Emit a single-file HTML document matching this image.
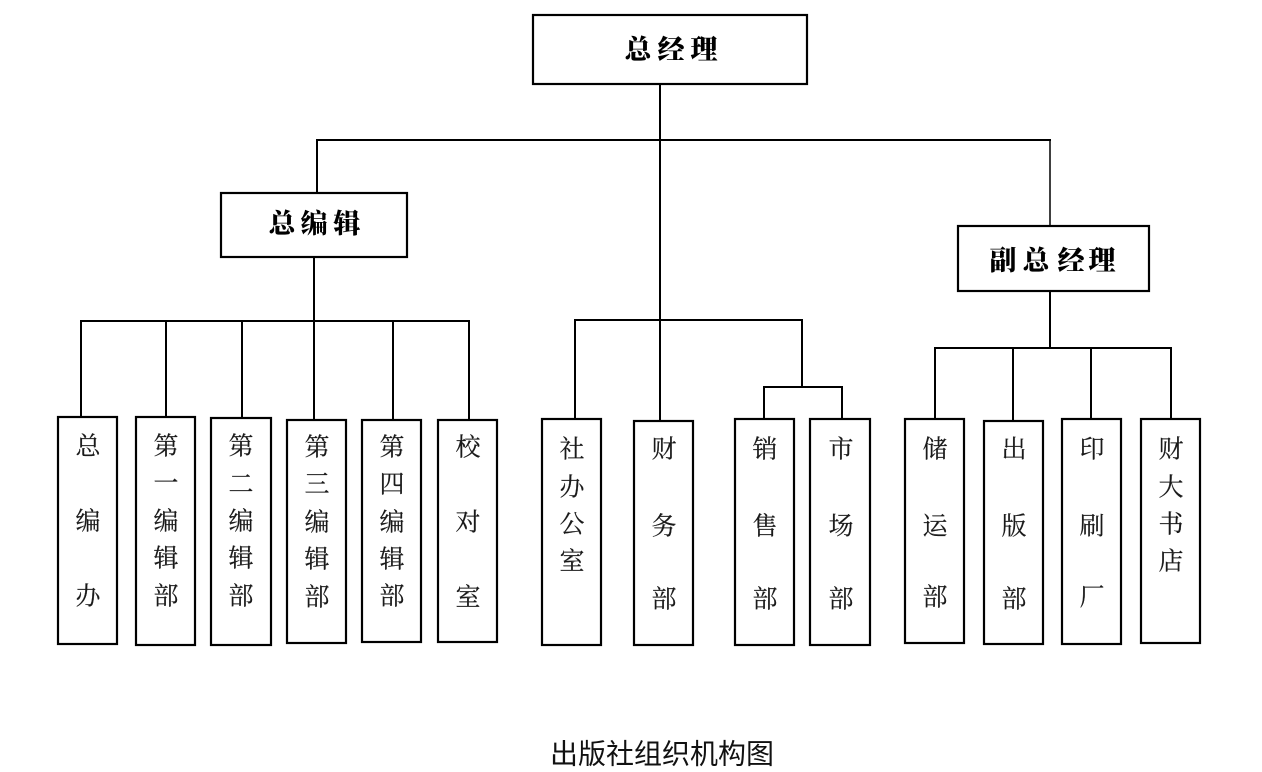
<!DOCTYPE html>
<html>
<head>
<meta charset="utf-8">
<style>
  html, body { margin: 0; padding: 0; background: #fff; }
  body { width: 1262px; height: 772px; overflow: hidden; }
  svg { display: block; }
  .t { font-family: "Liberation Serif", "Noto Serif CJK SC", serif; font-size: 25px; fill: #1a1a1a; stroke: #1a1a1a; stroke-width: 0.2; }
  .h { font-family: "Liberation Serif", "Noto Serif CJK SC", serif; font-size: 27px; font-weight: 900; fill: #000; }
  .cap { font-family: "Liberation Sans", "Noto Sans CJK SC", sans-serif; font-size: 28px; fill: #111; }
</style>
</head>
<body>
<svg width="1262" height="772" viewBox="0 0 1262 772" xmlns="http://www.w3.org/2000/svg">
  <g stroke="#000" stroke-width="2" fill="none">
    <line x1="660" y1="84" x2="660" y2="421"/>
    <line x1="316" y1="140" x2="1051" y2="140"/>
    <line x1="317" y1="140" x2="317" y2="193"/>
    <line x1="1050" y1="140" x2="1050" y2="226" stroke-width="1.5"/>

    <line x1="314" y1="257" x2="314" y2="420"/>
    <line x1="80" y1="321" x2="470" y2="321"/>
    <line x1="81" y1="321" x2="81" y2="417"/>
    <line x1="166" y1="321" x2="166" y2="417"/>
    <line x1="242" y1="321" x2="242" y2="418"/>
    <line x1="393" y1="321" x2="393" y2="420"/>
    <line x1="469" y1="321" x2="469" y2="420"/>

    <line x1="574" y1="320" x2="803" y2="320"/>
    <line x1="575" y1="320" x2="575" y2="419"/>
    <line x1="802" y1="320" x2="802" y2="387"/>
    <line x1="763" y1="387" x2="843" y2="387"/>
    <line x1="764" y1="387" x2="764" y2="419"/>
    <line x1="842" y1="387" x2="842" y2="419"/>

    <line x1="1050" y1="291" x2="1050" y2="348"/>
    <line x1="934" y1="348" x2="1172" y2="348"/>
    <line x1="935" y1="348" x2="935" y2="419"/>
    <line x1="1013" y1="348" x2="1013" y2="421"/>
    <line x1="1091" y1="348" x2="1091" y2="419"/>
    <line x1="1171" y1="348" x2="1171" y2="419"/>
  </g>

  <g stroke="#000" stroke-width="2.2" fill="#fff">
    <rect x="533" y="15" width="274" height="69"/>
    <rect x="221" y="193" width="186" height="64"/>
    <rect x="958" y="226" width="191" height="65"/>

    <rect x="58" y="417" width="59" height="227"/>
    <rect x="136" y="417" width="59" height="228"/>
    <rect x="211" y="418" width="60" height="227"/>
    <rect x="287" y="420" width="59" height="223"/>
    <rect x="362" y="420" width="59" height="222"/>
    <rect x="438" y="420" width="59" height="222"/>

    <rect x="542" y="419" width="59" height="226"/>
    <rect x="634" y="421" width="59" height="224"/>
    <rect x="735" y="419" width="59" height="226"/>
    <rect x="810" y="419" width="60" height="226"/>

    <rect x="905" y="419" width="59" height="224"/>
    <rect x="984" y="421" width="59" height="223"/>
    <rect x="1062" y="419" width="59" height="225"/>
    <rect x="1141" y="419" width="59" height="224"/>
  </g>

  <g class="h" text-anchor="middle" dominant-baseline="central">
    <text x="638" y="50">总</text><text x="671" y="50">经</text><text x="704" y="50">理</text>
    <text x="282" y="224">总</text><text x="314" y="224">编</text><text x="347" y="224">辑</text>
    <text x="1003" y="261">副</text><text x="1036" y="261">总</text><text x="1071" y="261">经</text><text x="1102" y="261">理</text>
  </g>

  <g class="t" text-anchor="middle" dominant-baseline="central">
    <text x="88" y="447">总</text><text x="88" y="522">编</text><text x="88" y="597">办</text>

    <text x="166" y="447">第</text><text x="166" y="484">一</text><text x="166" y="522">编</text><text x="166" y="559">辑</text><text x="166" y="597">部</text>

    <text x="241" y="447">第</text><text x="241" y="485">二</text><text x="241" y="522">编</text><text x="241" y="559">辑</text><text x="241" y="597">部</text>

    <text x="317" y="448">第</text><text x="317" y="485">三</text><text x="317" y="523">编</text><text x="317" y="560">辑</text><text x="317" y="598">部</text>

    <text x="392" y="448">第</text><text x="392" y="485">四</text><text x="392" y="523">编</text><text x="392" y="560">辑</text><text x="392" y="597">部</text>

    <text x="468" y="448">校</text><text x="468" y="523">对</text><text x="468" y="598">室</text>

    <text x="572" y="450">社</text><text x="572" y="488">办</text><text x="572" y="525">公</text><text x="572" y="562">室</text>

    <text x="664" y="450">财</text><text x="664" y="527">务</text><text x="664" y="600">部</text>

    <text x="765" y="450">销</text><text x="765" y="527">售</text><text x="765" y="600">部</text>

    <text x="841" y="450">市</text><text x="841" y="527">场</text><text x="841" y="600">部</text>

    <text x="935" y="450">储</text><text x="935" y="527">运</text><text x="935" y="598">部</text>

    <text x="1014" y="450">出</text><text x="1014" y="527">版</text><text x="1014" y="600">部</text>

    <text x="1092" y="450">印</text><text x="1092" y="527">刷</text><text x="1092" y="598">厂</text>

    <text x="1171" y="450">财</text><text x="1171" y="488">大</text><text x="1171" y="525">书</text><text x="1171" y="562">店</text>
  </g>

  <text class="cap" x="662" y="754" text-anchor="middle" dominant-baseline="central">出版社组织机构图</text>
</svg>
</body>
</html>
